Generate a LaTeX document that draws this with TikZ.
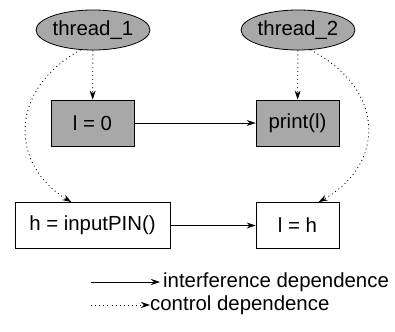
\documentclass[tikz,border=0pt]{standalone}
\usepackage{fontspec}
\setmainfont{Liberation Sans}
\usetikzlibrary{arrows.meta,shapes.geometric}
\definecolor{boxgray}{RGB}{168,168,168}
\tikzset{
  every node/.style={font=\fontsize{20.4}{24}\selectfont},
  graybox/.style={draw, line width=0.8pt, fill=boxgray, minimum width=83pt, minimum height=46pt, inner sep=0pt},
  whitebox/.style={draw, line width=0.8pt, fill=white, minimum height=46pt, inner sep=0pt},
  thread/.style={draw, line width=0.8pt, ellipse, fill=boxgray, minimum width=106pt, minimum height=40pt, inner sep=0pt},
  interf/.style={line width=0.8pt, -{Stealth[length=9pt,width=6pt]}},
  ctrl/.style={line width=0.9pt, dash pattern=on 0.9pt off 3.2pt, -{Stealth[length=9pt,width=6pt]}}
}
\begin{document}
\begin{tikzpicture}[x=1pt,y=-1pt]
\useasboundingbox (0,0) rectangle (395,331);
\node[thread] (t1) at (93,30) {thread\_1};
\node[thread] (t2) at (298,30) {thread\_2};
\node[graybox] (a) at (92.5,123) {l = 0};
\node[graybox] (b) at (297.5,123) {print(l)};
\node[whitebox, minimum width=155pt] (h) at (92.5,225.5) {h = inputPIN()};
\node[whitebox, minimum width=83pt] (lh) at (297.5,225.5) {l = h};
\draw[ctrl] (t1) -- (a);
\draw[ctrl] (t2) -- (b);
\draw[interf] (a) -- (b);
\draw[interf] (h) -- (lh);
\draw[ctrl] (t1.238) .. controls (8,90) and (10,165) .. (h.132);
\draw[ctrl] (t2.302) .. controls (387,90) and (385,165) .. (lh.48);
% legend
\coordinate (l1) at (91,282);
\node[anchor=west, inner sep=0pt] (leg1) at (163,282) {interference dependence};
\draw[interf, shorten >=3pt] (l1) -- (leg1.west);
\coordinate (l2) at (91,305);
\node[anchor=west, inner sep=0pt] (leg2) at (150,305) {control dependence};
\draw[ctrl] (l2) -- (leg2.west);
\end{tikzpicture}
\end{document}
